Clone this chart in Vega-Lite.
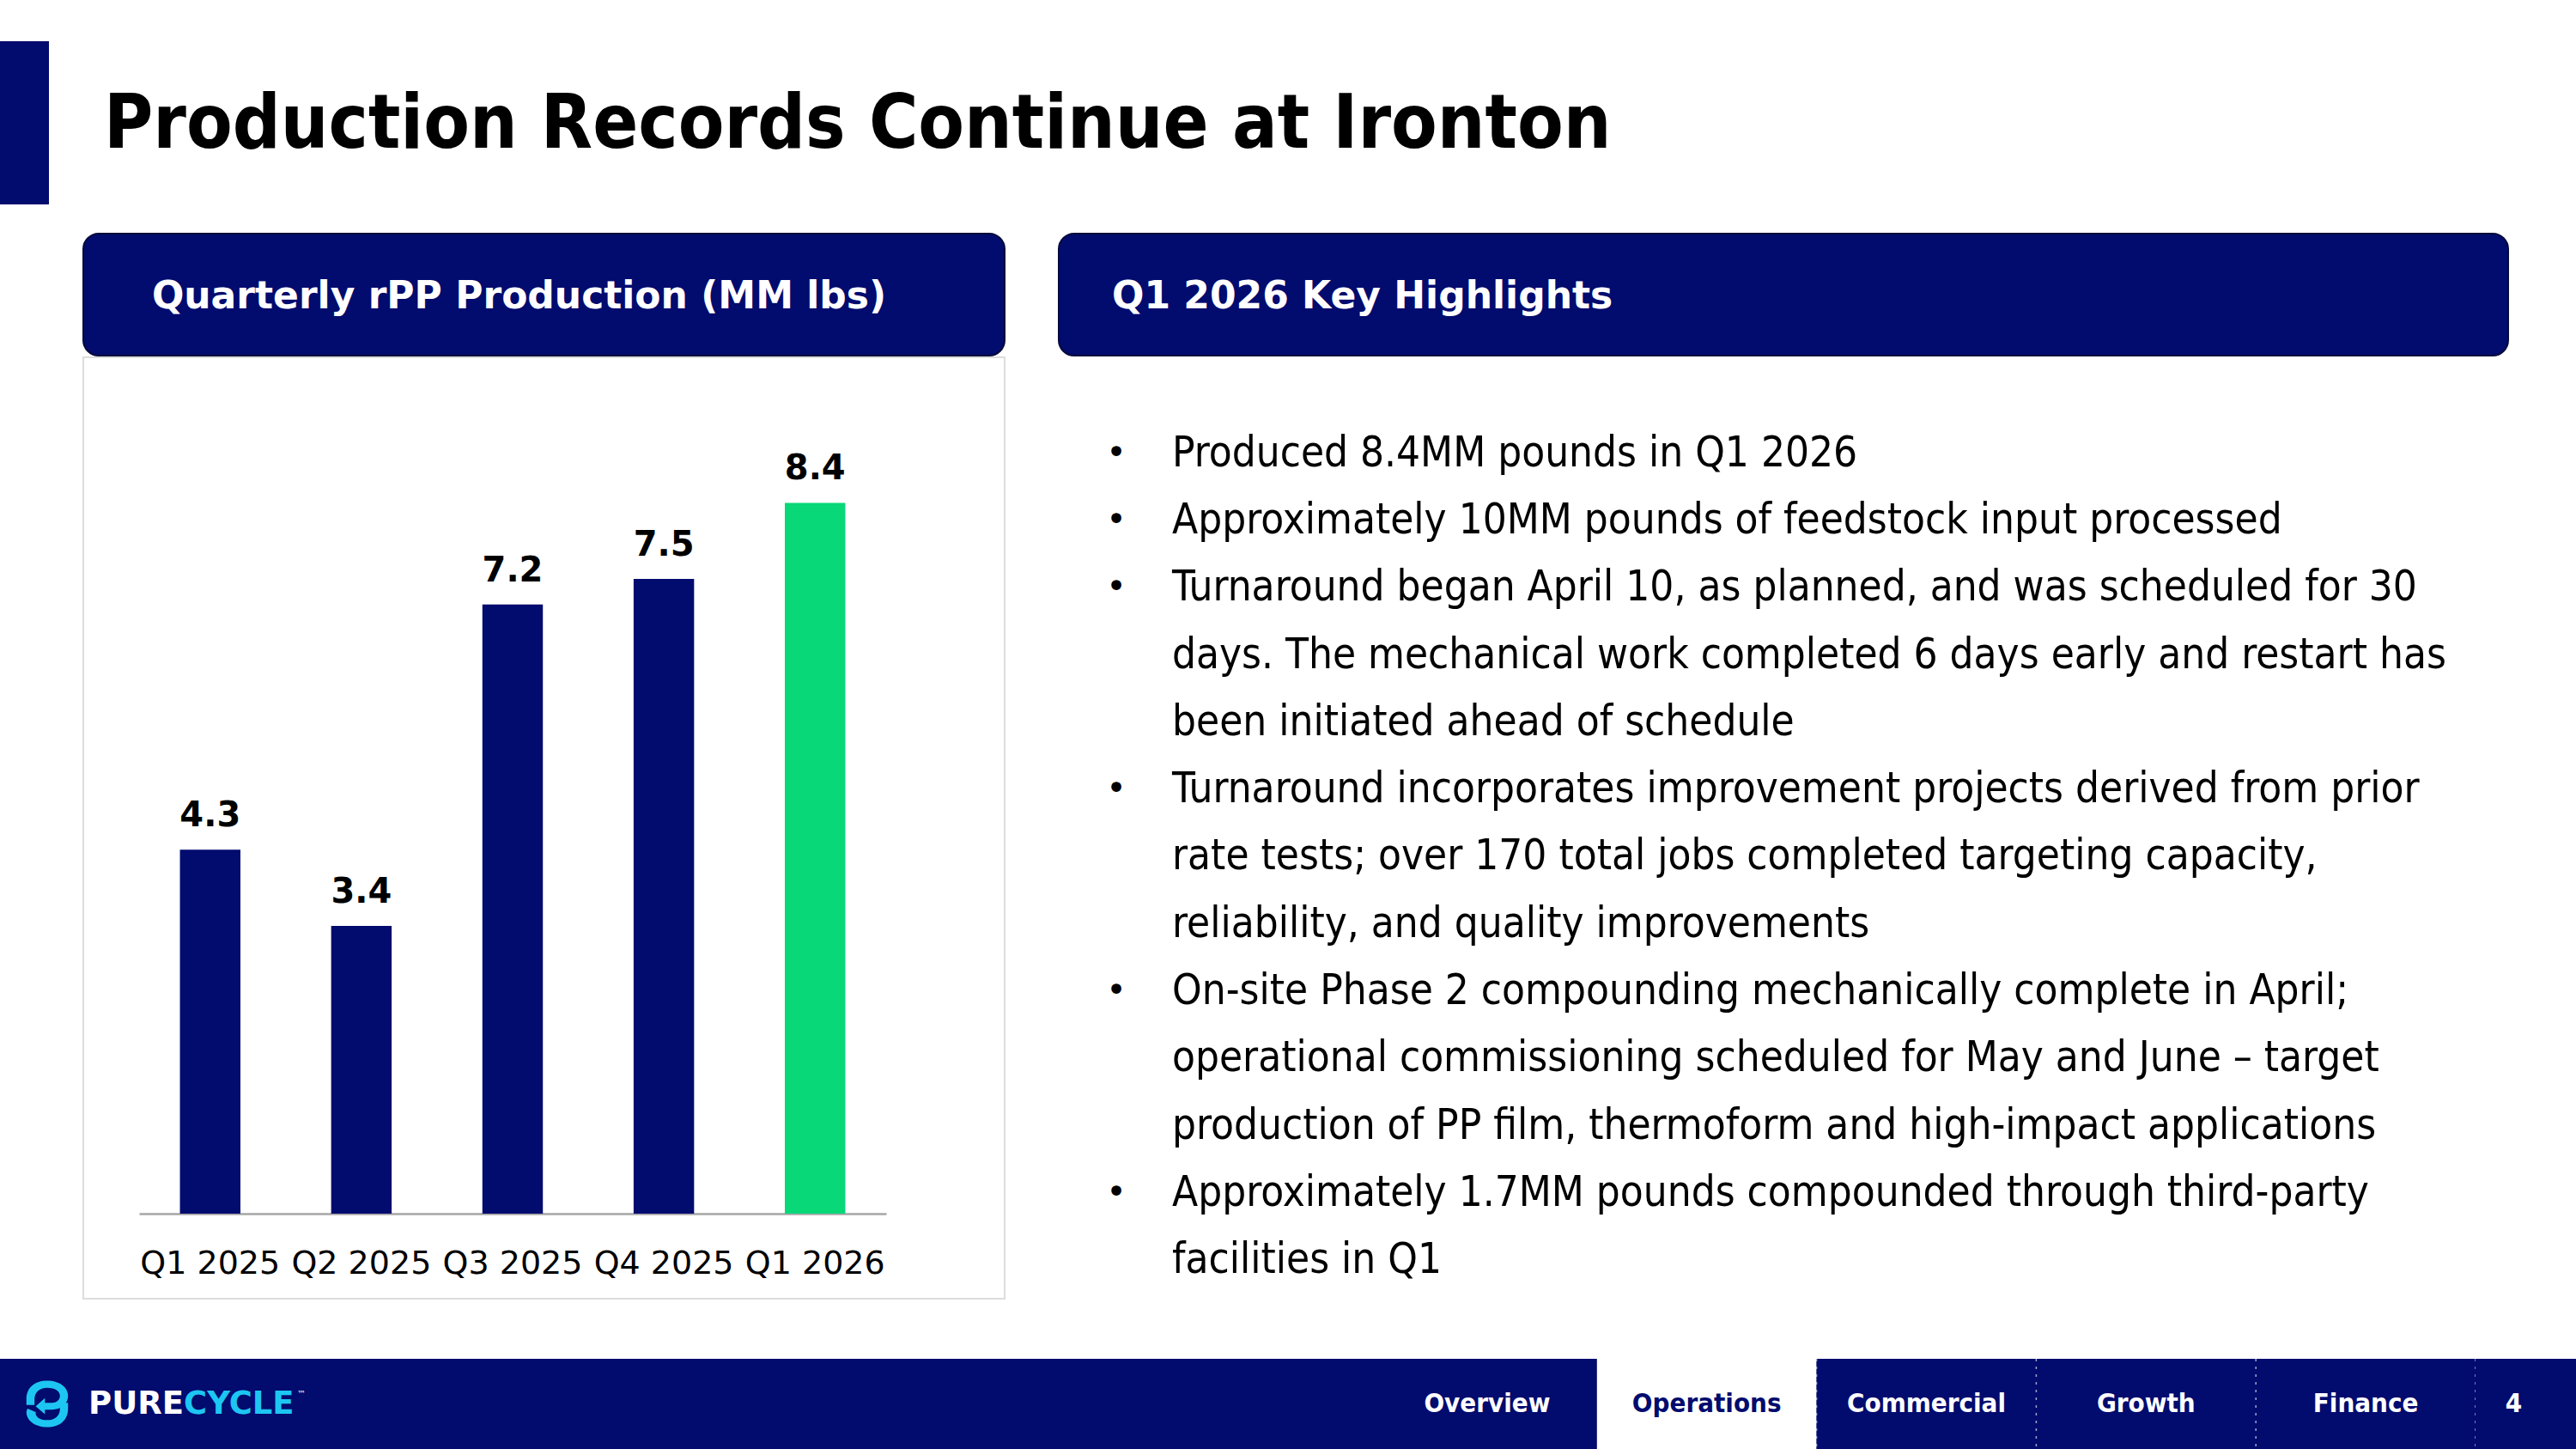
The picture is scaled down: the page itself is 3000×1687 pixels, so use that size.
{
  "$schema": "https://vega.github.io/schema/vega-lite/v6.json",
  "background": "#ffffff",
  "padding": {"top": 48, "left": 0, "right": 0, "bottom": 0},
  "autosize": {"type": "pad"},
  "config": {"view": {"stroke": null}, "font": "DejaVu Sans"},
  "datasets": {
    "production": [
      {"quarter": "Q1 2025", "mmlbs": 4.3, "period": "past"},
      {"quarter": "Q2 2025", "mmlbs": 3.4, "period": "past"},
      {"quarter": "Q3 2025", "mmlbs": 7.2, "period": "past"},
      {"quarter": "Q4 2025", "mmlbs": 7.5, "period": "past"},
      {"quarter": "Q1 2026", "mmlbs": 8.4, "period": "latest"}
    ],
    "bullets": [
      {"line": 1, "bullet": "•", "text": "Produced 8.4MM pounds in Q1 2026"},
      {"line": 2, "bullet": "•", "text": "Approximately 10MM pounds of feedstock input processed"},
      {"line": 3, "bullet": "•", "text": "Turnaround began April 10, as planned, and was scheduled for 30"},
      {"line": 4, "bullet": "", "text": "days. The mechanical work completed 6 days early and restart has"},
      {"line": 5, "bullet": "", "text": "been initiated ahead of schedule"},
      {"line": 6, "bullet": "•", "text": "Turnaround incorporates improvement projects derived from prior"},
      {"line": 7, "bullet": "", "text": "rate tests; over 170 total jobs completed targeting capacity,"},
      {"line": 8, "bullet": "", "text": "reliability, and quality improvements"},
      {"line": 9, "bullet": "•", "text": "On-site Phase 2 compounding mechanically complete in April;"},
      {"line": 10, "bullet": "", "text": "operational commissioning scheduled for May and June – target"},
      {"line": 11, "bullet": "", "text": "production of PP film, thermoform and high-impact applications"},
      {"line": 12, "bullet": "•", "text": "Approximately 1.7MM pounds compounded through third-party"},
      {"line": 13, "bullet": "", "text": "facilities in Q1"}
    ],
    "nav": [
      {"item": "Overview", "active": false},
      {"item": "Operations", "active": true},
      {"item": "Commercial", "active": false},
      {"item": "Growth", "active": false},
      {"item": "Finance", "active": false}
    ]
  },
  "spacing": 68,
  "vconcat": [
    {
      "spacing": 39,
      "hconcat": [
        {
          "width": 57,
          "height": 190,
          "view": {"fill": "#020B6E", "stroke": null},
          "data": {"values": [{"t": ""}]},
          "mark": {"type": "text"},
          "encoding": {"text": {"field": "t"}}
        },
        {
          "spacing": 33,
          "vconcat": [
            {
              "width": 48,
              "height": 190,
              "data": {"values": [{"title": "Production Records Continue at Ironton"}]},
              "mark": {"type": "text", "align": "left", "baseline": "middle", "dy": 3, "font": "DejaVu Sans Condensed", "fontWeight": "bold", "fontSize": 87, "color": "#000000"},
              "encoding": {"text": {"field": "title"}}
            },
            {
              "spacing": 61,
              "hconcat": [
                {
                  "spacing": 0,
                  "vconcat": [
                    {
                      "width": 1073,
                      "height": 142,
                      "view": {"fill": "#020B6E", "cornerRadius": 18, "stroke": "#070B3A", "strokeWidth": 2},
                      "data": {"values": [{"label": "Quarterly rPP Production (MM lbs)"}]},
                      "mark": {"type": "text", "align": "center", "baseline": "middle", "dx": -29, "dy": 3, "font": "DejaVu Sans", "fontWeight": "bold", "fontSize": 44, "color": "#ffffff"},
                      "encoding": {"text": {"field": "label"}}
                    },
                    {
                      "width": 1073,
                      "height": 1096,
                      "view": {"stroke": "#dddddd", "strokeWidth": 2, "fill": "#ffffff"},
                      "data": {"name": "production"},
                      "encoding": {
                        "x": {
                          "field": "quarter", "type": "nominal", "sort": null,
                          "scale": {"range": [65, 935], "paddingInner": 0.6, "paddingOuter": 0.27},
                          "axis": {"title": null, "orient": "bottom", "offset": -99, "ticks": false, "domainColor": "#a6a6a6", "domainWidth": 2.5, "labelFontSize": 38, "labelColor": "#000000", "labelPadding": 39, "labelAngle": 0, "labelFont": "DejaVu Sans", "grid": false, "labelOverlap": false}
                        },
                        "y": {
                          "field": "mmlbs", "type": "quantitative",
                          "scale": {"domain": [0, 10.12], "range": [997, 0], "nice": false, "zero": true},
                          "axis": null
                        }
                      },
                      "layer": [
                        {
                          "mark": {"type": "bar"},
                          "encoding": {
                            "color": {"field": "period", "type": "nominal", "scale": {"domain": ["past", "latest"], "range": ["#020B6E", "#08D878"]}, "legend": null}
                          }
                        },
                        {
                          "mark": {"type": "text", "baseline": "alphabetic", "dy": -27, "font": "DejaVu Sans", "fontWeight": "bold", "fontSize": 40, "color": "#000000"},
                          "encoding": {"text": {"field": "mmlbs", "type": "quantitative", "format": ".1f"}}
                        }
                      ]
                    }
                  ]
                },
                {
                  "spacing": 0,
                  "vconcat": [
                    {
                      "width": 1688,
                      "height": 142,
                      "view": {"fill": "#020B6E", "cornerRadius": 18, "stroke": "#070B3A", "strokeWidth": 2},
                      "data": {"values": [{"label": "Q1 2026 Key Highlights"}]},
                      "mark": {"type": "text", "align": "left", "baseline": "middle", "dx": -782, "dy": 3, "font": "DejaVu Sans", "fontWeight": "bold", "fontSize": 44, "color": "#ffffff"},
                      "encoding": {"text": {"field": "label"}}
                    },
                    {
                      "width": 264,
                      "height": 1096,
                      "data": {"name": "bullets"},
                      "encoding": {
                        "y": {"field": "line", "type": "ordinal", "scale": {"type": "point", "padding": 1.056, "align": 0.72}, "axis": null}
                      },
                      "layer": [
                        {
                          "mark": {"type": "text", "align": "left", "baseline": "middle", "font": "DejaVu Sans Condensed", "fontSize": 49, "color": "#000000"},
                          "encoding": {"text": {"field": "text"}}
                        },
                        {
                          "mark": {"type": "text", "align": "center", "baseline": "middle", "dx": -65, "font": "DejaVu Sans", "fontSize": 40, "color": "#000000"},
                          "encoding": {"text": {"field": "bullet"}}
                        }
                      ]
                    }
                  ]
                }
              ]
            }
          ]
        }
      ]
    },
    {
      "spacing": 0,
      "bounds": "flush",
      "hconcat": [
        {
          "width": 110,
          "height": 107,
          "view": {"fill": "#020B6E", "stroke": null},
          "data": {"values": [{"logo": "PureCycle"}]},
          "mark": {
            "type": "point", "filled": true, "color": "#1DC6F2", "opacity": 1, "size": 2900, "strokeWidth": 0, "yOffset": -1,
            "shape": "M -0.9 0.05 L -0.9 -0.2 C -0.9 -0.7 -0.55 -1 0 -1 C 0.55 -1 0.9 -0.7 0.9 -0.35 C 0.9 0 0.6 0.25 0.2 0.25 L -0.1 0.25 L -0.1 0.45 L -0.5 0.1 L -0.1 -0.25 L -0.1 -0.05 L 0.2 -0.05 C 0.45 -0.05 0.55 -0.2 0.55 -0.35 C 0.55 -0.55 0.35 -0.7 0 -0.7 C -0.35 -0.7 -0.55 -0.5 -0.55 -0.2 L -0.55 0.05 Z M 0.9 -0.05 L 0.9 0.2 C 0.9 0.7 0.55 1 0 1 C -0.55 1 -0.9 0.7 -0.9 0.35 C -0.9 0.3 -0.88 0.25 -0.85 0.2 L -0.5 0.35 C -0.52 0.55 -0.35 0.7 0 0.7 C 0.35 0.7 0.55 0.5 0.55 0.2 L 0.55 -0.05 Z"
          },
          "encoding": {}
        },
        {
          "width": 260,
          "height": 107,
          "view": {"fill": "#020B6E", "stroke": null},
          "data": {"values": [{"a": "PURE", "b": "CYCLE", "tm": "™"}]},
          "layer": [
            {
              "mark": {"type": "text", "align": "right", "baseline": "middle", "dx": -26, "dy": -1, "font": "DejaVu Sans", "fontWeight": "bold", "fontSize": 37, "color": "#ffffff"},
              "encoding": {"text": {"field": "a"}}
            },
            {
              "mark": {"type": "text", "align": "left", "baseline": "middle", "dx": -26, "dy": -1, "font": "DejaVu Sans", "fontWeight": "bold", "fontSize": 37, "color": "#1DC6F2"},
              "encoding": {"text": {"field": "b"}}
            },
            {
              "mark": {"type": "text", "align": "left", "baseline": "middle", "dx": 106, "dy": -13, "font": "DejaVu Sans", "fontSize": 10, "color": "#ffffff"},
              "encoding": {"text": {"field": "tm"}}
            }
          ]
        },
        {
          "width": 1234,
          "height": 107,
          "view": {"fill": "#020B6E", "stroke": null},
          "data": {"values": [{"t": ""}]},
          "mark": {"type": "text"},
          "encoding": {"text": {"field": "t"}}
        },
        {
          "width": 1279,
          "height": 107,
          "view": {"fill": "#020B6E", "stroke": null},
          "data": {"name": "nav"},
          "encoding": {
            "x": {"field": "item", "type": "nominal", "sort": null, "scale": {"paddingInner": 0, "paddingOuter": 0}, "axis": null}
          },
          "layer": [
            {
              "mark": {"type": "rect"},
              "encoding": {"color": {"condition": {"test": "datum.active", "value": "#ffffff"}, "value": "#020B6E"}}
            },
            {
              "transform": [{"filter": "datum.item != 'Overview'"}],
              "mark": {"type": "rule", "color": "#c8cbe0", "strokeWidth": 1.5, "strokeDash": [3, 6], "opacity": 0.8},
              "encoding": {"x": {"field": "item", "type": "nominal", "sort": null, "bandPosition": 1}}
            },
            {
              "mark": {"type": "text", "align": "center", "baseline": "middle", "dy": -1, "font": "DejaVu Sans Condensed", "fontWeight": "bold", "fontSize": 31},
              "encoding": {
                "text": {"field": "item"},
                "color": {"condition": {"test": "datum.active", "value": "#020B6E"}, "value": "#ffffff"}
              }
            }
          ]
        },
        {
          "width": 117,
          "height": 107,
          "view": {"fill": "#020B6E", "stroke": null},
          "data": {"values": [{"page": "4"}]},
          "mark": {"type": "text", "align": "center", "baseline": "middle", "dx": -14, "dy": -1, "font": "DejaVu Sans Condensed", "fontWeight": "bold", "fontSize": 31, "color": "#ffffff"},
          "encoding": {"text": {"field": "page"}}
        }
      ]
    }
  ]
}
